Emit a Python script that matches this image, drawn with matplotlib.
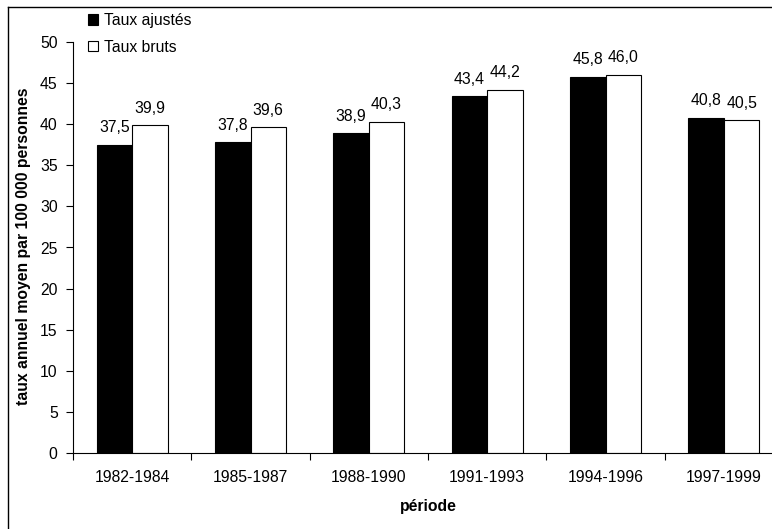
import matplotlib
matplotlib.use("Agg")
import matplotlib.pyplot as plt
from matplotlib.patches import Patch
from matplotlib.lines import Line2D
import numpy as np

categories = ['1982-1984', '1985-1987', '1988-1990', '1991-1993', '1994-1996', '1997-1999']
taux_ajustes = [37.5, 37.8, 38.9, 43.4, 45.8, 40.8]
taux_bruts = [39.9, 39.6, 40.3, 44.2, 46.0, 40.5]
yticks = [0, 5, 10, 15, 20, 25, 30, 35, 40, 45, 50]

plt.rcParams['font.family'] = ['Liberation Sans', 'DejaVu Sans']
FS = 11.3

W, H = 772, 529
fig = plt.figure(figsize=(W / 100, H / 100), dpi=100)
ax = fig.add_axes([73 / W, (H - 453) / H, 710 / W, 411 / H])

x = np.arange(len(categories))
bw = 0.3
ax.bar(x - bw / 2, taux_ajustes, width=bw, color='black', edgecolor='black', linewidth=0.8)
ax.bar(x + bw / 2, taux_bruts, width=bw, color='white', edgecolor='black', linewidth=0.8)

def fmt(v):
    return f"{v:.1f}".replace('.', ',')

for xi, v in zip(x, taux_ajustes):
    ax.annotate(fmt(v), (xi - bw / 2, v), xytext=(0, 9), textcoords='offset points',
                ha='center', va='baseline', fontsize=FS)
for xi, v in zip(x, taux_bruts):
    ax.annotate(fmt(v), (xi + bw / 2, v), xytext=(0, 9), textcoords='offset points',
                ha='center', va='baseline', fontsize=FS)

ax.set_xlim(-0.5, len(categories) - 0.5)
ax.set_ylim(0, 50)
ax.set_yticks(yticks)
ax.set_yticklabels([str(t) for t in yticks], fontsize=FS)
ax.tick_params(axis='y', direction='out', length=5, width=0.8, pad=6)

ax.set_xticks(np.arange(-0.5, len(categories), 1.0))
ax.set_xticklabels([])
ax.tick_params(axis='x', which='major', direction='out', length=5, width=0.8)
ax.set_xticks(x, minor=True)
ax.set_xticklabels(categories, minor=True, fontsize=FS)
ax.tick_params(axis='x', which='minor', length=0, pad=12)

for s in ['top', 'right']:
    ax.spines[s].set_visible(False)
for s in ['left', 'bottom']:
    ax.spines[s].set_linewidth(0.8)
    ax.spines[s].set_color('black')

ax.set_ylabel('taux annuel moyen par 100 000 personnes', fontsize=FS, fontweight='bold', va='center')
ax.yaxis.set_label_coords((24 - 73) / 710, 0.504)
ax.set_xlabel('période', fontsize=FS, fontweight='bold', va='center')
ax.xaxis.set_label_coords(0.5, -(507 - 453) / 411)

handles = [Patch(facecolor='black', edgecolor='black', linewidth=0.8),
           Patch(facecolor='white', edgecolor='black', linewidth=0.8)]
fig.legend(handles, ['Taux ajustés', 'Taux bruts'], loc='upper left',
           bbox_to_anchor=(88 / W, 1 - 13 / H), bbox_transform=fig.transFigure,
           frameon=False, fontsize=FS, handlelength=0.65, handleheight=0.65,
           handletextpad=0.35, labelspacing=0.75, borderpad=0, borderaxespad=0)

# figure frame (left and top edges visible)
fig.add_artist(Line2D([8 / W, 8 / W], [0, 1 - 7 / H], transform=fig.transFigure, color='black', linewidth=1.0))
fig.add_artist(Line2D([8 / W, 1], [1 - 7 / H, 1 - 7 / H], transform=fig.transFigure, color='black', linewidth=1.0))

fig.savefig('out.png', dpi=100)
